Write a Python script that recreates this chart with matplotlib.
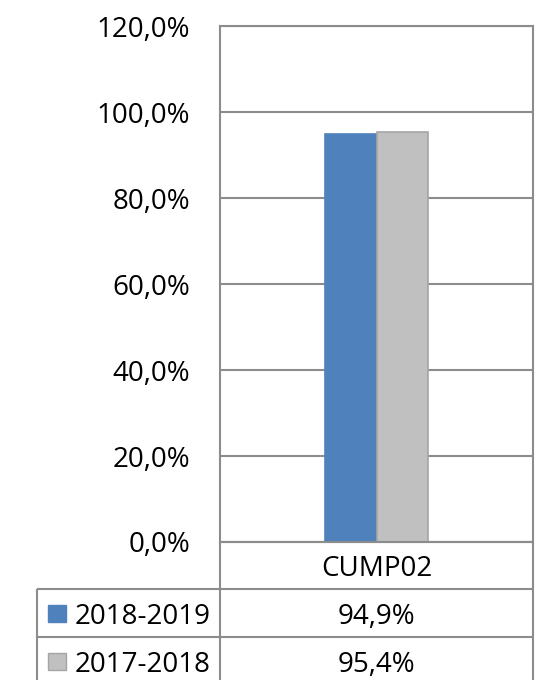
import matplotlib
matplotlib.use("Agg")
import matplotlib.pyplot as plt
from matplotlib.patches import Rectangle
from matplotlib.ticker import FuncFormatter

# ---------------- data ----------------
categories = ["CUMP02"]
series_names = ["2018-2019", "2017-2018"]
values_2018_2019 = [94.9]
values_2017_2018 = [95.4]
y_ticks = [0, 20, 40, 60, 80, 100, 120]

# ---------------- style ----------------
colors = ["#4f81bd", "#c0c0c0"]
edge_colors = ["#4f81bd", "#a5a5a5"]
grid_color = "#8c8c8c"
FONT = "Open Sans"
FS = 20
LW = 1.5

W, H = 543, 680
fig = plt.figure(figsize=(W / 100, H / 100), dpi=100)
plt.rcParams['font.family'] = [FONT, 'DejaVu Sans']

L, R, T, B = 220, 533, 26, 542
ax = fig.add_axes([L / W, 1 - B / H, (R - L) / W, (B - T) / H])

series = [values_2018_2019, values_2017_2018]
bw = 0.163
for i, vals in enumerate(series):
    off = (i - 0.5) * bw
    ax.bar([k + off for k in range(len(categories))], vals, bw,
           color=colors[i], edgecolor=edge_colors[i], linewidth=1.2, zorder=3)

ax.set_xlim(-0.5, len(categories) - 0.5)
ax.set_ylim(y_ticks[0], y_ticks[-1])
ax.set_yticks(y_ticks)
ax.yaxis.set_major_formatter(FuncFormatter(lambda v, p: f"{v:.1f}%".replace('.', ',')))
ax.set_xticks([])
ax.tick_params(axis='y', length=0, pad=21.6, labelsize=FS)
for lab in ax.get_yticklabels():
    lab.set_fontfamily(FONT)
ax.grid(axis='y', color=grid_color, linewidth=LW, zorder=0)
ax.set_axisbelow(True)
for s in ax.spines.values():
    s.set_color(grid_color)
    s.set_linewidth(LW)

# ---------------- data table ----------------
tab = fig.add_axes([0, 0, 1, 1], zorder=5)
tab.set_xlim(0, W)
tab.set_ylim(H, 0)
tab.axis('off')
tab.patch.set_alpha(0)

TL = 37
rows = [542, 589, 637, 685]
kw = dict(color=grid_color, linewidth=LW, solid_capstyle='butt')
tab.plot([L, R], [rows[0], rows[0]], **kw)
for y in rows[1:]:
    tab.plot([TL, R], [y, y], **kw)
tab.plot([L, L], [rows[0], rows[-1]], **kw)
tab.plot([R, R], [rows[0], rows[-1]], **kw)
tab.plot([TL, TL], [rows[1], rows[-1]], **kw)

cx = (L + R) / 2
for c in categories:
    tab.text(cx, (rows[0] + rows[1]) / 2, c, ha='center', va='center_baseline',
             fontsize=FS, fontfamily=FONT)
for i, (name, vals) in enumerate(zip(series_names, series)):
    yc = (rows[i + 1] + rows[i + 2]) / 2
    tab.add_patch(Rectangle((48, yc - 8.5), 18, 17, facecolor=colors[i],
                            edgecolor=edge_colors[i], linewidth=1.0))
    tab.text(75, yc, name, ha='left', va='center_baseline', fontsize=FS, fontfamily=FONT)
    tab.text(cx, yc, f"{vals[0]:.1f}%".replace('.', ','), ha='center',
             va='center_baseline', fontsize=FS, fontfamily=FONT)

fig.savefig("out.png", dpi=100)
